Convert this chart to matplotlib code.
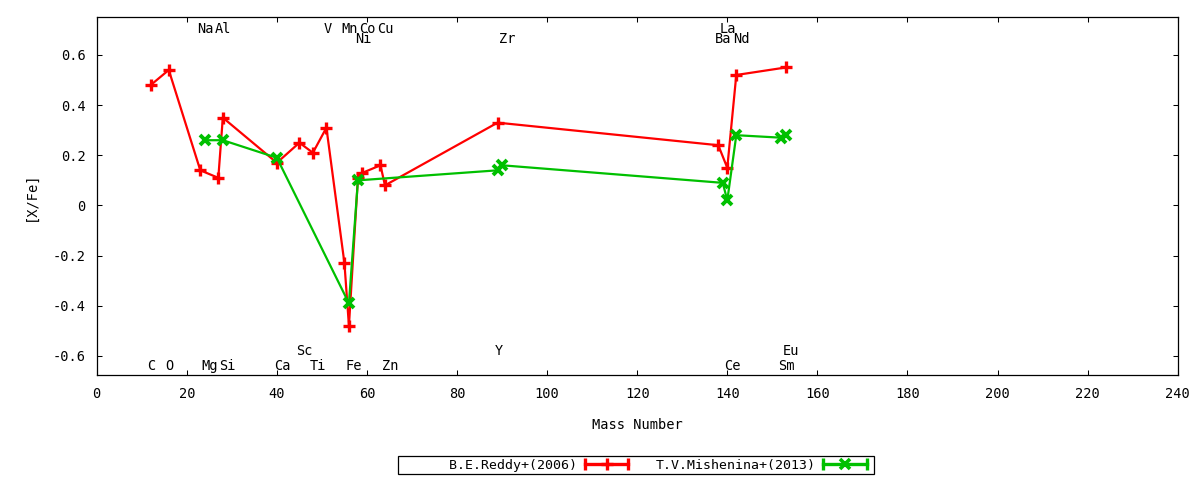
import matplotlib
matplotlib.use('Agg')
import matplotlib.pyplot as plt
from matplotlib.lines import Line2D
from matplotlib.legend_handler import HandlerLine2D

# [X/Fe] against mass number, two studies
reddy_mass = [12, 16, 23, 27, 28, 40, 45, 48, 51, 55, 56, 58, 59, 63, 64, 89, 138, 140, 142, 153]
reddy_xfe = [0.48, 0.54, 0.14, 0.11, 0.35, 0.17, 0.25, 0.21, 0.31, -0.23, -0.48,
             0.11, 0.13, 0.16, 0.08, 0.33, 0.24, 0.15, 0.52, 0.55]

mish_mass = [24, 28, 40, 56, 58, 89, 90, 139, 140, 142, 152, 153]
mish_xfe = [0.26, 0.26, 0.19, -0.39, 0.10, 0.14, 0.16, 0.09, 0.02, 0.28, 0.27, 0.28]

# element labels: name, mass, row (0/1 at top, 2/3 at bottom)
elem_names = ['Na', 'Al', 'V', 'Mn', 'Co', 'Cu', 'La',
              'Ni', 'Zr', 'Ba', 'Nd',
              'Sc', 'Y', 'Eu',
              'C', 'O', 'Mg', 'Si', 'Ca', 'Ti', 'Fe', 'Zn', 'Ce', 'Sm']
elem_mass = [23, 27, 51, 55, 59, 63, 139,
             58, 90, 138, 142,
             45, 89, 153,
             12, 16, 24, 28, 40, 48, 56, 64, 140, 152]
elem_row = [0, 0, 0, 0, 0, 0, 0,
            1, 1, 1, 1,
            2, 2, 2,
            3, 3, 3, 3, 3, 3, 3, 3, 3, 3]
row_y = [0.687, 0.647, -0.598, -0.655]

RED = '#ff0000'
GREEN = '#00c000'
FONT = 'DejaVu Sans Mono'
FS = 9.8

plt.rcParams['font.family'] = FONT
plt.rcParams['font.size'] = FS


def main():
    fig = plt.figure(figsize=(12, 4.8), dpi=100)
    ax = fig.add_axes([96.7 / 1200, 105 / 480, 1081 / 1200, 357.7 / 480])

    ax.plot(reddy_mass, reddy_xfe, color=RED, lw=1.6, marker='+', ms=8.5, mew=2.4)
    ax.plot(mish_mass, mish_xfe, color=GREEN, lw=1.6, marker='x', ms=7, mew=2.8)

    for name, m, r in zip(elem_names, elem_mass, elem_row):
        ax.annotate(name, xy=(m, row_y[r]), xytext=(-2.3, 0), textcoords='offset points',
                    ha='left', va='baseline', fontsize=FS)

    ax.set_xlim(0, 240)
    ax.set_ylim(-0.676, 0.75)
    ax.set_xticks(range(0, 241, 20))
    ax.set_yticks([-0.6, -0.4, -0.2, 0, 0.2, 0.4, 0.6])
    ax.set_yticklabels(['-0.6', '-0.4', '-0.2', '0', '0.2', '0.4', '0.6'])
    ax.tick_params(direction='in', length=3.3, width=0.75, top=True, right=True,
                   labelsize=FS)
    ax.tick_params(axis='x', pad=9)
    ax.tick_params(axis='y', pad=8)
    for sp in ax.spines.values():
        sp.set_linewidth(0.9)

    ax.set_xlabel('Mass Number', fontsize=FS, labelpad=12)
    ax.set_ylabel('[X/Fe]', fontsize=FS, labelpad=11)

    # legend samples: line with end caps and a point in the middle
    r_caps = Line2D([], [], color=RED, lw=2.4, marker='|', ms=8, mew=2.4)
    r_mark = Line2D([], [], color=RED, lw=0, marker='+', ms=8, mew=2.4)
    g_caps = Line2D([], [], color=GREEN, lw=2.4, marker='|', ms=8, mew=2.4)
    g_mark = Line2D([], [], color=GREEN, lw=0, marker='x', ms=7, mew=2.6)
    hmap = {r_caps: HandlerLine2D(numpoints=2), g_caps: HandlerLine2D(numpoints=2),
            r_mark: HandlerLine2D(numpoints=1), g_mark: HandlerLine2D(numpoints=1)}
    leg = fig.legend([(r_caps, r_mark), (g_caps, g_mark)],
                     ['      B.E.Reddy+(2006)', 'T.V.Mishenina+(2013)'],
                     handler_map=hmap, ncol=2, markerfirst=False,
                     loc='center', bbox_to_anchor=(636 / 1200, 1 - 465 / 480),
                     frameon=True, fancybox=False, framealpha=1, edgecolor='black',
                     handlelength=3.9, handletextpad=0.3, columnspacing=1.75,
                     borderpad=0.2, borderaxespad=0, fontsize=9.5)
    leg.get_frame().set_linewidth(0.9)

    fig.savefig('out.png', dpi=100)
    plt.close(fig)


if __name__ == "__main__":
    main()
